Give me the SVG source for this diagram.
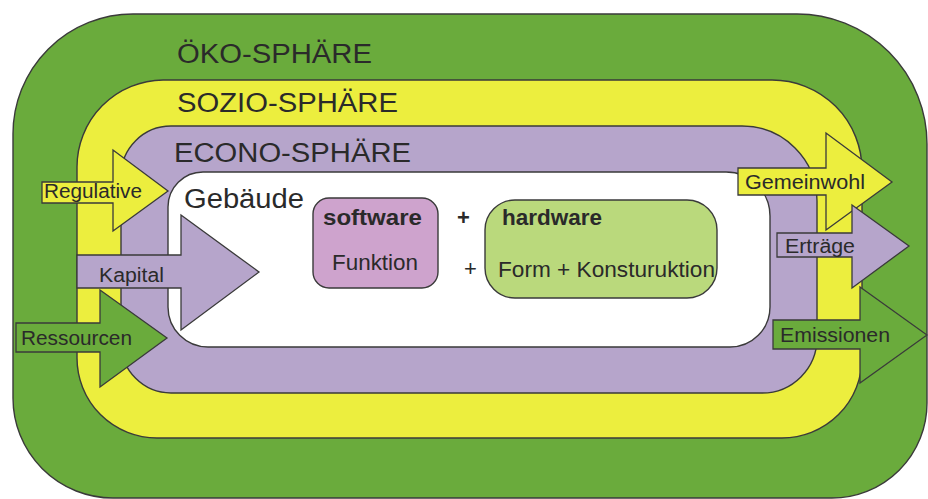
<svg xmlns="http://www.w3.org/2000/svg" width="928" height="499" viewBox="0 0 928 499">
<style>
  .ring { stroke: #3a3a3a; stroke-width: 1.4; }
  .green { fill: #6aab3c; }
  .yellow { fill: #ecee3e; }
  .purple { fill: #b6a5cb; }
  .white { fill: #ffffff; }
  .arrow { stroke: #3a3a3a; stroke-width: 1.3; stroke-linejoin: miter; }
  .sphere { font-family: "Liberation Sans", Arial, sans-serif; font-size: 27px; fill: #2a2a2a; }
  .lbl { font-family: "Liberation Sans", Arial, sans-serif; font-size: 20px; fill: #2a2a2a; }
  .box { font-family: "Liberation Sans", Arial, sans-serif; font-size: 22px; fill: #2a2a2a; }
  .bold { font-weight: bold; }
</style>
<rect width="928" height="499" fill="#ffffff"/>
<g id="oeko-sphaere">
  <path class="ring green" d="M133,14 H797 A130,130 0 0 1 927,144 V403 A95,95 0 0 1 832,498 H113 A100,100 0 0 1 13,398 V134 A120,120 0 0 1 133,14 Z"/>
  <text class="sphere" x="177" y="63" textLength="195" lengthAdjust="spacingAndGlyphs">ÖKO-SPHÄRE</text>
</g>
<g id="sozio-sphaere">
  <path class="ring yellow" d="M163,80 H772 A90,90 0 0 1 862,170 V358 A80,80 0 0 1 782,438 H157 A80,80 0 0 1 77,358 V167 A87,87 0 0 1 163,80 Z"/>
  <text class="sphere" x="177" y="112" textLength="221" lengthAdjust="spacingAndGlyphs">SOZIO-SPHÄRE</text>
</g>
<g id="econo-sphaere">
  <path class="ring purple" d="M171,126 H742 A75,75 0 0 1 817,201 V338 A55,55 0 0 1 762,393 H171 A50,50 0 0 1 121,343 V176 A50,50 0 0 1 171,126 Z"/>
  <text class="sphere" x="174" y="162" textLength="237" lengthAdjust="spacingAndGlyphs">ECONO-SPHÄRE</text>
</g>
<g id="gebaeude">
  <path class="ring white" d="M203,172 H726 A44,44 0 0 1 770,216 V307 A40,40 0 0 1 730,347 H208 A40,40 0 0 1 168,307 V207 A35,35 0 0 1 203,172 Z"/>
  <text class="sphere" x="184" y="208" font-size="26" textLength="120" lengthAdjust="spacingAndGlyphs">Gebäude</text>
</g>
<g id="software">
  <rect class="ring" x="313" y="198" width="125" height="90" rx="16" fill="#cea3cd"/>
  <text class="box bold" x="323" y="225" textLength="99" lengthAdjust="spacingAndGlyphs">software</text>
  <text class="box" x="332" y="270" textLength="86" lengthAdjust="spacingAndGlyphs">Funktion</text>
</g>
<g id="plus-signs">
  <text class="box bold" x="457" y="225">+</text>
  <text class="box" x="464" y="276">+</text>
</g>
<g id="hardware">
  <rect class="ring" x="485" y="200" width="232" height="98" rx="30" fill="#bad97c"/>
  <text class="box bold" x="502" y="225" textLength="100" lengthAdjust="spacingAndGlyphs">hardware</text>
  <text class="box" x="498" y="277" textLength="217" lengthAdjust="spacingAndGlyphs">Form + Konsturuktion</text>
</g>
<g id="connectors">
  <g id="regulative">
    <polygon class="arrow yellow" points="42,182 113,182 113,150 168,191 113,231 113,203 42,203"/>
    <text class="lbl" x="44" y="198" textLength="98" lengthAdjust="spacingAndGlyphs">Regulative</text>
  </g>
  <g id="ressourcen">
    <polygon class="arrow green" points="16,323 100,323 100,290 167,338 100,387 100,352 16,352"/>
    <text class="lbl" x="21" y="345" textLength="111" lengthAdjust="spacingAndGlyphs">Ressourcen</text>
  </g>
  <g id="kapital">
    <polygon class="arrow purple" points="77,255 181,255 181,215 259,272 181,330 181,288 77,288"/>
    <text class="lbl" x="99" y="282" textLength="65" lengthAdjust="spacingAndGlyphs">Kapital</text>
  </g>
  <g id="gemeinwohl">
    <polygon class="arrow yellow" points="738,168 826,168 826,133 892,182 826,230 826,195 738,195"/>
    <text class="lbl" x="745" y="189" textLength="120" lengthAdjust="spacingAndGlyphs">Gemeinwohl</text>
  </g>
  <g id="emissionen">
    <polygon class="arrow green" points="773,320 860,320 860,287 927,335 860,383 860,349 773,349"/>
    <text class="lbl" x="780" y="342" textLength="110" lengthAdjust="spacingAndGlyphs">Emissionen</text>
  </g>
  <g id="ertraege">
    <polygon class="arrow purple" points="777,233 852,233 852,205 909,246 852,288 852,257 777,257"/>
    <text class="lbl" x="785" y="253" textLength="70" lengthAdjust="spacingAndGlyphs">Erträge</text>
  </g>
</g>
</svg>
